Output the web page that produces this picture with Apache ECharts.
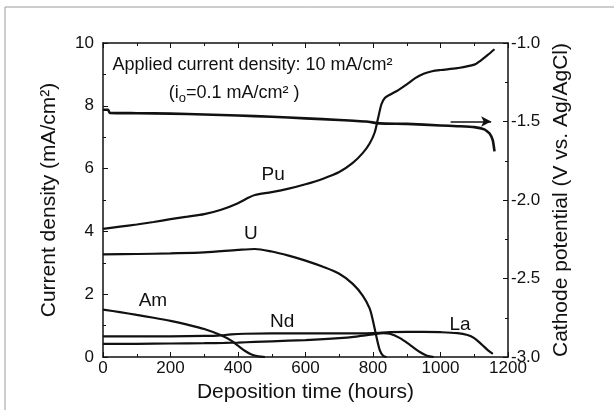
<!DOCTYPE html>
<html>
<head>
<meta charset="utf-8">
<script src="https://cdn.jsdelivr.net/npm/echarts@6/dist/echarts.min.js"></script>
<style>
  html, body { margin: 0; padding: 0; background: #fff; }
  #chart { width: 614px; height: 412px; }
</style>
</head>
<body>
<div id="chart"></div>
<script>
// data (hours, mA/cm2 or V)
const puHours = [0, 50, 100, 150, 200, 250, 300, 350, 400, 430, 450, 500, 550, 600, 650, 700, 740, 770, 790, 805, 815, 825, 835, 850, 875, 900, 925, 950, 975, 1000, 1050, 1100, 1120, 1140, 1160];
const puCurrent = [4.08, 4.15, 4.22, 4.30, 4.39, 4.47, 4.55, 4.69, 4.90, 5.07, 5.16, 5.25, 5.36, 5.50, 5.67, 5.89, 6.18, 6.50, 6.80, 7.15, 7.60, 8.05, 8.25, 8.35, 8.50, 8.68, 8.88, 9.02, 9.10, 9.14, 9.20, 9.31, 9.45, 9.62, 9.80];

const uHours = [0, 100, 200, 300, 400, 450, 500, 550, 600, 650, 700, 740, 770, 790, 800, 810, 820, 830, 840];
const uCurrent = [3.27, 3.28, 3.30, 3.33, 3.41, 3.44, 3.36, 3.23, 3.07, 2.88, 2.65, 2.33, 1.95, 1.55, 1.15, 0.65, 0.22, 0.04, 0];

const amHours = [0, 50, 100, 150, 200, 250, 300, 350, 380, 400, 420, 440, 460, 480];
const amCurrent = [1.51, 1.43, 1.34, 1.25, 1.15, 1.03, 0.89, 0.69, 0.52, 0.36, 0.20, 0.08, 0.02, 0];

const ndHours = [0, 100, 200, 300, 360, 400, 450, 500, 600, 700, 750, 800, 830, 850, 880, 910, 940, 960, 980];
const ndCurrent = [0.42, 0.42, 0.43, 0.44, 0.45, 0.46, 0.48, 0.50, 0.54, 0.60, 0.65, 0.72, 0.76, 0.74, 0.60, 0.38, 0.15, 0.04, 0];

const laHours = [0, 100, 200, 300, 340, 380, 420, 500, 600, 700, 800, 850, 900, 950, 1000, 1050, 1080, 1100, 1120, 1140, 1155];
const laCurrent = [0.66, 0.66, 0.66, 0.67, 0.68, 0.72, 0.74, 0.75, 0.75, 0.75, 0.76, 0.79, 0.80, 0.80, 0.79, 0.76, 0.70, 0.60, 0.42, 0.22, 0.10];

const potHours = [0, 15, 20, 100, 200, 300, 400, 500, 600, 700, 780, 820, 900, 1000, 1050, 1100, 1130, 1145, 1155, 1160];
const potential = [-1.425, -1.425, -1.445, -1.447, -1.45, -1.455, -1.462, -1.47, -1.48, -1.49, -1.50, -1.512, -1.515, -1.525, -1.53, -1.536, -1.55, -1.575, -1.62, -1.69];

const arrowHours = [1030, 1150];
const arrowLevel = -1.5;

// curve labels: [name, hours, current]
const curveLabels = [
  ["Pu", 504, 5.81],
  ["U", 438, 3.91],
  ["Am", 148, 1.79],
  ["Nd", 531, 1.12],
  ["La", 1058, 1.04],
];

const FONT = "Liberation Sans";
const INK = "#111";

function pairs(xs, ys) {
  return xs.map(function (x, i) {
    return [x, ys[i]];
  });
}

let chartDom = document.getElementById("chart");
let myChart = echarts.init(chartDom, null, { renderer: "canvas" });

function curve(name, xs, ys, yAxisIndex) {
  return {
    name: name,
    type: "line",
    xAxisIndex: 0,
    yAxisIndex: yAxisIndex || 0,
    data: pairs(xs, ys),
    showSymbol: false,
    smooth: 0.3,
    lineStyle: { color: INK, width: 2.2 },
    silent: true,
    z: 3,
  };
}

let potSeries = curve("potential", potHours, potential, 1);
potSeries.lineStyle.width = 2.6;
potSeries.smooth = 0.15;
potSeries.markLine = {
  silent: true,
  symbol: ["none", "arrow"],
  symbolSize: [8, 10],
  label: { show: false },
  lineStyle: { color: INK, width: 1.5, type: "solid" },
  data: [
    [
      { coord: [arrowHours[0], arrowLevel] },
      { coord: [arrowHours[1], arrowLevel] },
    ],
  ],
};

const axisCommon = {
  axisLine: { show: true, onZero: false, lineStyle: { color: INK, width: 1.5 } },
  axisTick: { show: true, inside: true, length: 5, lineStyle: { color: INK, width: 1 } },
  minorTick: { show: true, splitNumber: 2, length: 3, lineStyle: { color: INK, width: 1 } },
  splitLine: { show: false },
};

const tickFont = { fontFamily: FONT, fontSize: 17, color: INK };
const nameFont = { fontFamily: FONT, fontSize: 21, color: INK };

let option = {
  animation: false,
  backgroundColor: "#fff",
  textStyle: { fontFamily: FONT, color: INK },
  grid: { left: 103, right: 106, top: 43, bottom: 55, containLabel: false },
  xAxis: [
    Object.assign({}, axisCommon, {
      type: "value",
      position: "bottom",
      min: 0,
      max: 1200,
      interval: 200,
      name: "Deposition time (hours)",
      nameLocation: "middle",
      nameGap: 12,
      nameTextStyle: nameFont,
      axisLabel: Object.assign({ margin: 3, formatter: function (v) { return String(v); } }, tickFont),
    }),
    Object.assign({}, axisCommon, {
      type: "value",
      position: "top",
      min: 0,
      max: 1200,
      interval: 200,
      axisLabel: { show: false },
    }),
  ],
  yAxis: [
    Object.assign({}, axisCommon, {
      type: "value",
      position: "left",
      min: 0,
      max: 10,
      interval: 2,
      name: "Current density (mA/cm\u00b2)",
      nameLocation: "middle",
      nameGap: 43,
      nameTextStyle: nameFont,
      axisLabel: Object.assign({ margin: 9 }, tickFont),
    }),
    Object.assign({}, axisCommon, {
      type: "value",
      position: "right",
      min: -3,
      max: -1,
      interval: 0.5,
      name: "Cathode potential (V vs. Ag/AgCl)",
      nameLocation: "middle",
      nameGap: 43,
      nameRotate: 90,
      nameTextStyle: nameFont,
      axisLabel: Object.assign({
        margin: 3,
        formatter: function (v) {
          return v.toFixed(1);
        },
      }, tickFont),
    }),
  ],
  series: [
    curve("Pu", puHours, puCurrent),
    curve("U", uHours, uCurrent),
    curve("Am", amHours, amCurrent),
    curve("Nd", ndHours, ndCurrent),
    curve("La", laHours, laCurrent),
    potSeries,
  ],
};
myChart.setOption(option);

// text annotations placed through the chart's own scales
function px(h, v) {
  return myChart.convertToPixel({ xAxisIndex: 0, yAxisIndex: 0 }, [h, v]);
}

let graphics = [];
curveLabels.forEach(function (c) {
  let p = px(c[1], c[2]);
  graphics.push({
    type: "text",
    x: p[0],
    y: p[1],
    style: {
      text: c[0],
      fontFamily: FONT,
      fontSize: 19,
      fill: INK,
      align: "center",
      verticalAlign: "middle",
    },
    z: 10,
  });
});

let p1 = px(28, 9.3);
graphics.push({
  type: "text",
  x: p1[0],
  y: p1[1],
  style: {
    text: "Applied current density: 10 mA/cm\u00b2",
    fontFamily: FONT,
    fontSize: 18,
    fill: INK,
    align: "left",
    verticalAlign: "middle",
  },
  z: 10,
});

let p2 = px(195, 8.42);
graphics.push({
  type: "text",
  x: p2[0],
  y: p2[1],
  style: {
    text: "(i{sub|o}=0.1 mA/cm\u00b2 )",
    fontFamily: FONT,
    fontSize: 18,
    fill: INK,
    align: "left",
    verticalAlign: "middle",
    rich: {
      sub: { fontFamily: FONT, fontSize: 13, fill: INK, padding: [12, 0, 0, 0] },
    },
  },
  z: 10,
});

// scanned-page frame lines
graphics.push({
  type: "polyline",
  shape: { points: [[5, 410], [5, 7], [614, 7]] },
  style: { stroke: "#9a9a9a", lineWidth: 1, fill: null },
  silent: true,
});

myChart.setOption({ graphic: graphics });
</script>
</body>
</html>
